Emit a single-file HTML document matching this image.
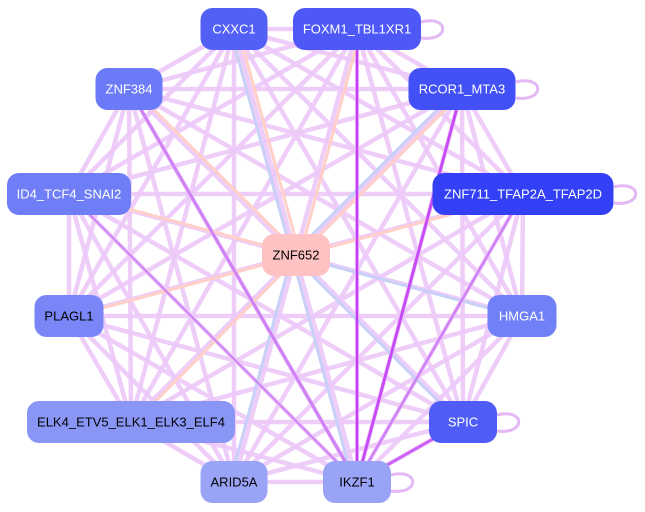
<!DOCTYPE html>
<html><head><meta charset="utf-8"><style>
body{margin:0;background:#fff;width:645px;height:512px;overflow:hidden}
svg{position:absolute;left:0;top:0}
text{font-family:"Liberation Sans",sans-serif;font-size:13px;text-anchor:middle;dominant-baseline:central}
</style></head><body>
<svg id="s" width="645" height="512" viewBox="0 0 645 512">
<g id="edges"></g>
<g id="special"></g>
<g id="loops" fill="none" stroke="#e3b8f5" stroke-width="3">
<path d="M421,22 C450,15 450,42 421,38"/>
<path d="M516,82 C545,75 545,102 516,98"/>
<path d="M614,187 C643,180 643,207 614,203"/>
<path d="M497,415 C526,408 526,435 497,431"/>
<path d="M391,475 C420,468 420,495 391,491"/>
</g>
<g id="nodes"></g>
</svg>
<script>
const N=[
["CXXC1",234,29,67,"#5360f5","#fff"],
["FOXM1_TBL1XR1",357,29,128,"#4d58f7","#fff"],
["ZNF384",129,89,67,"#6b7af7","#fff"],
["RCOR1_MTA3",462,89,107,"#4250f7","#fff"],
["ID4_TCF4_SNAI2",69,194,124,"#6f7ef6","#fff"],
["ZNF711_TFAP2A_TFAP2D",523,194,181,"#3340f5","#fff"],
["PLAGL1",69,316,69,"#7a86f7","#000"],
["HMGA1",522,316,69,"#7080f6","#fff"],
["ELK4_ETV5_ELK1_ELK3_ELF4",131,422,208,"#8a96f6","#000"],
["SPIC",463,422,68,"#4f5cf6","#fff"],
["ARID5A",234,482,67,"#9aa4f7","#000"],
["IKZF1",357,482,68,"#9aa4f7","#000"],
["ZNF652",296,255,68,"#ffc2c2","#000"]];
const ns="http://www.w3.org/2000/svg";
function el(t,a,p){const e=document.createElementNS(ns,t);for(const k in a)e.setAttribute(k,a[k]);p.appendChild(e);return e;}
const E=document.getElementById("edges"),S=document.getElementById("special"),Nd=document.getElementById("nodes");
for(let i=0;i<12;i++)for(let j=i+1;j<12;j++){
el("line",{x1:N[i][1],y1:N[i][2],x2:N[j][1],y2:N[j][2],stroke:"#ecc9f8","stroke-width":4.5,"stroke-opacity":0.9},E);}
const z=N[12];
const pink=[0,1,2,3,4,5,6,8],blue=[0,3,7,9,10,11];
pink.forEach(i=>el("line",{x1:N[i][1]+4,y1:N[i][2],x2:z[1]+4,y2:z[2],stroke:"#ffcfc8","stroke-width":3},S));
blue.forEach(i=>el("line",{x1:N[i][1]-4,y1:N[i][2],x2:z[1]-4,y2:z[2],stroke:"#c8d0f8","stroke-width":3},S));
[[1,"#c43cf5",2.5],[3,"#c84cf5",3],[9,"#cc60f5",3],[2,"#d080f5",3],[5,"#d080f5",2.5],[4,"#d080f5",2]].forEach(a=>
el("line",{x1:N[a[0]][1],y1:N[a[0]][2],x2:N[11][1],y2:N[11][2],stroke:a[1],"stroke-width":a[2]},S));
N.forEach(n=>{el("rect",{x:n[1]-n[3]/2,y:n[2]-21,width:n[3],height:42,rx:12,fill:n[4]},Nd);
const t=el("text",{x:n[1],y:n[2],fill:n[5]},Nd);t.textContent=n[0];});
</script>
</body></html>
